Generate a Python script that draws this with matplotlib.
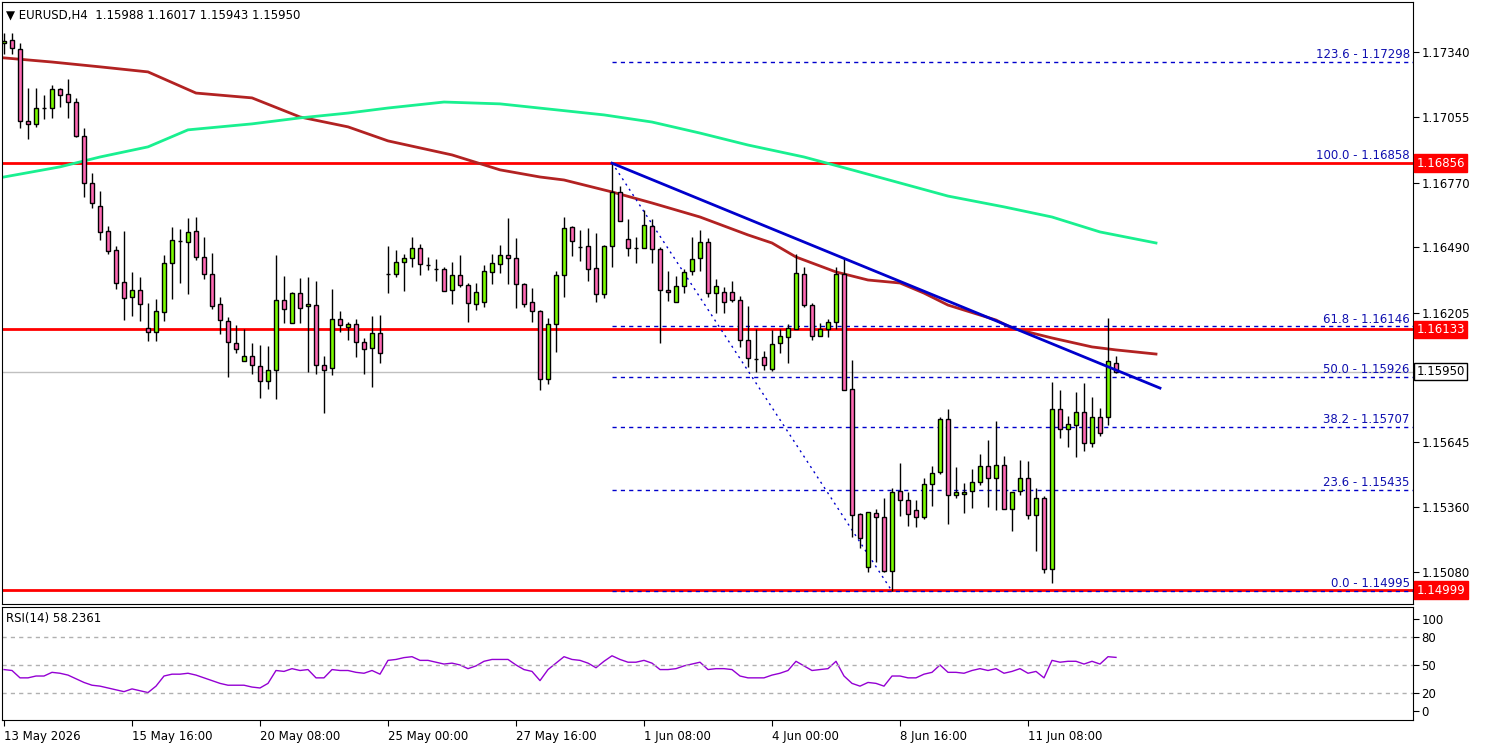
import numpy as np
import matplotlib
matplotlib.use('Agg')
import matplotlib.pyplot as plt
import matplotlib.transforms as mtransforms

# EURUSD H4 candles
opens = [1.17379, 1.17392, 1.17353, 1.17040, 1.17027, 1.17096, 1.17096, 1.17179, 1.17157, 1.17122,
         1.16974, 1.16770, 1.16670, 1.16561, 1.16479, 1.16339, 1.16274, 1.16305, 1.16139, 1.16122,
         1.16209, 1.16422, 1.16518, 1.16513, 1.16561, 1.16448, 1.16374, 1.16244, 1.16170, 1.16074,
         1.15996, 1.16017, 1.15974, 1.15909, 1.15957, 1.16261, 1.16161, 1.16291, 1.16235, 1.16239,
         1.15978, 1.15965, 1.16178, 1.16144, 1.16157, 1.16078, 1.16052, 1.16117, 1.16374, 1.16374,
         1.16426, 1.16444, 1.16487, 1.16413, 1.16396, 1.16396, 1.16305, 1.16370, 1.16326, 1.16244,
         1.16252, 1.16383, 1.16418, 1.16457, 1.16444, 1.16331, 1.16252, 1.16213, 1.15917, 1.16157,
         1.16370, 1.16579, 1.16492, 1.16496, 1.16400, 1.16287, 1.16496, 1.16731, 1.16526, 1.16487,
         1.16487, 1.16583, 1.16483, 1.16305, 1.16252, 1.16322, 1.16387, 1.16444, 1.16513, 1.16291,
         1.16296, 1.16296, 1.16261, 1.16087, 1.16004, 1.16013, 1.15961, 1.16074, 1.16100, 1.16135,
         1.16374, 1.16239, 1.16104, 1.16135, 1.16165, 1.16374, 1.15874, 1.15330, 1.15100, 1.15335,
         1.15317, 1.15082, 1.15430, 1.15391, 1.15348, 1.15317, 1.15461, 1.15513, 1.15743, 1.15413,
         1.15417, 1.15430, 1.15469, 1.15539, 1.15487, 1.15543, 1.15352, 1.15430, 1.15487, 1.15326,
         1.15400, 1.15091, 1.15787, 1.15700, 1.15717, 1.15774, 1.15639, 1.15752, 1.15752, 1.15988]
highs = [1.17422, 1.17422, 1.17379, 1.17183, 1.17182, 1.17153, 1.17196, 1.17182, 1.17222, 1.17140,
         1.17009, 1.16813, 1.16735, 1.16583, 1.16496, 1.16561, 1.16383, 1.16361, 1.16248, 1.16265,
         1.16457, 1.16579, 1.16570, 1.16618, 1.16622, 1.16535, 1.16465, 1.16274, 1.16187, 1.16152,
         1.16135, 1.16074, 1.16065, 1.16061, 1.16457, 1.16365, 1.16296, 1.16357, 1.16361, 1.16344,
         1.16017, 1.16309, 1.16213, 1.16165, 1.16178, 1.16096, 1.16191, 1.16196, 1.16496, 1.16479,
         1.16461, 1.16535, 1.16505, 1.16448, 1.16439, 1.16405, 1.16426, 1.16457, 1.16335, 1.16335,
         1.16413, 1.16461, 1.16500, 1.16618, 1.16531, 1.16335, 1.16313, 1.16218, 1.16183, 1.16387,
         1.16622, 1.16583, 1.16566, 1.16574, 1.16552, 1.16500, 1.16861, 1.16757, 1.16613, 1.16535,
         1.16653, 1.16613, 1.16492, 1.16387, 1.16365, 1.16396, 1.16535, 1.16566, 1.16531, 1.16352,
         1.16318, 1.16344, 1.16278, 1.16235, 1.16135, 1.16039, 1.16131, 1.16135, 1.16157, 1.16461,
         1.16405, 1.16248, 1.16161, 1.16178, 1.16405, 1.16444, 1.16000, 1.15335, 1.15339, 1.15352,
         1.15400, 1.15443, 1.15552, 1.15426, 1.15391, 1.15487, 1.15539, 1.15752, 1.15787, 1.15535,
         1.15465, 1.15526, 1.15591, 1.15652, 1.15735, 1.15582, 1.15426, 1.15565, 1.15561, 1.15443,
         1.15408, 1.15904, 1.15870, 1.15756, 1.15861, 1.15900, 1.15839, 1.15791, 1.16183, 1.16017]
lows = [1.17331, 1.17331, 1.17009, 1.16961, 1.17014, 1.17048, 1.17053, 1.17101, 1.17053, 1.16970,
        1.16709, 1.16661, 1.16522, 1.16461, 1.16309, 1.16174, 1.16191, 1.16170, 1.16083, 1.16083,
        1.16170, 1.16265, 1.16335, 1.16287, 1.16435, 1.16352, 1.16222, 1.16113, 1.15926, 1.16030,
        1.15996, 1.15939, 1.15835, 1.15874, 1.15830, 1.16161, 1.16161, 1.16161, 1.15948, 1.15939,
        1.15769, 1.15935, 1.16122, 1.16087, 1.16013, 1.15939, 1.15883, 1.15987, 1.16291, 1.16361,
        1.16300, 1.16405, 1.16370, 1.16392, 1.16344, 1.16300, 1.16244, 1.16318, 1.16165, 1.16218,
        1.16231, 1.16331, 1.16378, 1.16331, 1.16226, 1.16231, 1.16165, 1.15870, 1.15896, 1.16035,
        1.16274, 1.16452, 1.16431, 1.16344, 1.16252, 1.16270, 1.16405, 1.16605, 1.16452, 1.16422,
        1.16487, 1.16422, 1.16074, 1.16257, 1.16252, 1.16291, 1.16370, 1.16387, 1.16274, 1.16204,
        1.16204, 1.16252, 1.16057, 1.15970, 1.15948, 1.15957, 1.15952, 1.16030, 1.15987, 1.16135,
        1.16231, 1.16087, 1.16104, 1.16100, 1.16135, 1.15870, 1.15230, 1.15182, 1.15078, 1.15121,
        1.15078, 1.14995, 1.15321, 1.15278, 1.15274, 1.15308, 1.15365, 1.15504, 1.15287, 1.15400,
        1.15335, 1.15356, 1.15456, 1.15361, 1.15348, 1.15352, 1.15256, 1.15413, 1.15308, 1.15169,
        1.15073, 1.15030, 1.15661, 1.15622, 1.15578, 1.15604, 1.15622, 1.15669, 1.15717, 1.15943]
closes = [1.17388, 1.17357, 1.17040, 1.17027, 1.17096, 1.17096, 1.17179, 1.17153, 1.17122, 1.16974,
          1.16770, 1.16683, 1.16557, 1.16474, 1.16335, 1.16270, 1.16305, 1.16244, 1.16122, 1.16213,
          1.16422, 1.16522, 1.16518, 1.16557, 1.16448, 1.16374, 1.16235, 1.16174, 1.16078, 1.16048,
          1.16017, 1.15978, 1.15909, 1.15957, 1.16261, 1.16222, 1.16291, 1.16226, 1.16244, 1.15978,
          1.15957, 1.16178, 1.16152, 1.16157, 1.16078, 1.16048, 1.16117, 1.16030, 1.16374, 1.16426,
          1.16444, 1.16487, 1.16418, 1.16413, 1.16396, 1.16300, 1.16370, 1.16326, 1.16248, 1.16296,
          1.16387, 1.16422, 1.16457, 1.16444, 1.16331, 1.16244, 1.16213, 1.15917, 1.16157, 1.16370,
          1.16574, 1.16518, 1.16492, 1.16396, 1.16287, 1.16496, 1.16731, 1.16605, 1.16487, 1.16487,
          1.16587, 1.16483, 1.16305, 1.16296, 1.16322, 1.16383, 1.16439, 1.16513, 1.16291, 1.16322,
          1.16252, 1.16261, 1.16087, 1.16009, 1.16004, 1.15978, 1.16070, 1.16104, 1.16139, 1.16378,
          1.16239, 1.16104, 1.16135, 1.16165, 1.16374, 1.15870, 1.15326, 1.15226, 1.15339, 1.15317,
          1.15082, 1.15426, 1.15391, 1.15330, 1.15317, 1.15461, 1.15508, 1.15743, 1.15413, 1.15426,
          1.15426, 1.15469, 1.15539, 1.15487, 1.15543, 1.15352, 1.15426, 1.15487, 1.15326, 1.15400,
          1.15091, 1.15787, 1.15700, 1.15722, 1.15774, 1.15639, 1.15752, 1.15682, 1.15996, 1.15950]

# moving averages, sampled at bar positions
ma_red_bar = [0, 6, 12, 18, 24, 31, 37, 43, 48, 56, 62, 67, 70, 76, 81, 87, 93, 96, 99, 104,
              108, 112, 115, 118, 124, 126, 131, 136, 139, 144]
ma_red_val = [1.17314, 1.17296, 1.17275, 1.17253, 1.17161, 1.17140, 1.17057, 1.17014, 1.16953, 1.16892,
              1.16827, 1.16796, 1.16783, 1.16731, 1.16683, 1.16622, 1.16544, 1.16509, 1.16448, 1.16383,
              1.16348, 1.16335, 1.16291, 1.16239, 1.16174, 1.16139, 1.16096, 1.16057, 1.16044, 1.16026]
ma_green_bar = [0, 7, 12, 18, 23, 31, 37, 43, 48, 55, 62, 75, 81, 87, 93, 100, 106, 112, 118, 125,
                131, 137, 144]
ma_green_val = [1.16796, 1.16840, 1.16883, 1.16927, 1.17001, 1.17027, 1.17053, 1.17074, 1.17096, 1.17122,
                1.17114, 1.17066, 1.17035, 1.16987, 1.16935, 1.16883, 1.16827, 1.16770, 1.16713, 1.16666,
                1.16622, 1.16557, 1.16509]

rsi = [45, 44, 36, 36, 38, 38, 42, 41, 39, 35, 31, 28, 27, 25, 23, 21, 24, 22, 20, 27,
       38, 40, 40, 41, 39, 36, 33, 30, 28, 28, 28, 26, 25, 30, 44, 43, 46, 44, 45, 36,
       36, 45, 44, 44, 42, 41, 44, 40, 55, 56, 58, 59, 55, 55, 53, 51, 52, 50, 46, 49,
       54, 56, 56, 56, 50, 45, 43, 33, 45, 52, 59, 56, 55, 52, 47, 54, 60, 56, 53, 53,
       55, 52, 45, 45, 46, 49, 51, 53, 45, 46, 46, 45, 38, 36, 36, 36, 39, 41, 44, 54,
       49, 44, 45, 46, 54, 38, 30, 27, 31, 30, 27, 38, 38, 36, 36, 40, 42, 50, 42, 42,
       41, 44, 46, 44, 46, 41, 43, 46, 41, 43, 36, 55, 53, 54, 54, 51, 54, 51, 59, 58.2361]

date_bars = [0, 16, 32, 48, 64, 80, 96, 112, 128]
date_labels = ['13 May 2026', '15 May 16:00', '20 May 08:00', '25 May 00:00', '27 May 16:00',
               '1 Jun 08:00', '4 Jun 00:00', '8 Jun 16:00', '11 Jun 08:00']

price_ticks = [1.17340, 1.17055, 1.16770, 1.16490, 1.16205, 1.15925, 1.15645, 1.15360, 1.15080]

# horizontal levels and fibonacci
res_levels = [1.16856, 1.16133, 1.14999]
last_price = 1.15950
fib_pct = [123.6, 100.0, 61.8, 50.0, 38.2, 23.6, 0.0]
fib_price = [1.17298, 1.16858, 1.16146, 1.15926, 1.15707, 1.15435, 1.14995]
fib_start_bar = 76
fib_low_bar = 111
trend_bars = [76, 144.5]
trend_vals = [1.16856, 1.15878]

W, H = 1485, 747
fig = plt.figure(figsize=(W / 100, H / 100), dpi=100)
plt.rcParams['font.family'] = ['DejaVu Sans']
fs = 8.5

ax = fig.add_axes([2 / W, 1 - 604 / H, 1411 / W, 602 / H])
ax2 = fig.add_axes([2 / W, 1 - 720 / H, 1411 / W, 113 / H])

xmax = (1413 - 4) / 8
for a in (ax, ax2):
    a.set_xlim(-0.25, xmax)
    for s in a.spines.values():
        s.set_color('black')
        s.set_linewidth(0.8)
ax.set_ylim(1.14939, 1.17557)
ax2.set_ylim(-9.8, 113)

idx = np.arange(len(closes))
o = np.array(opens)
c = np.array(closes)
bull = c >= o
ax.vlines(idx, lows, highs, color='black', lw=1, zorder=3)
body_lo = np.minimum(o, c)
body_h = np.maximum(np.abs(c - o), 0.000015)
ax.bar(idx, body_h, bottom=body_lo, width=0.62,
       color=np.where(bull, '#7CFC00', '#FF69B4'), edgecolor='black', lw=1, zorder=4)

ax.plot(ma_red_bar, ma_red_val, color='#B22222', lw=2, zorder=2)
ax.plot(ma_green_bar, ma_green_val, color='#19F090', lw=2, zorder=2)

for lv in res_levels:
    ax.axhline(lv, color='#FF0000', lw=2, zorder=1)
ax.axhline(last_price, color='#C0C0C0', lw=1, zorder=1)

for pct, pr in zip(fib_pct, fib_price):
    if pct != 100.0:
        ax.hlines(pr, fib_start_bar, xmax, color='#0000CC', lw=1, linestyles=(0, (3, 3)), zorder=1)
    ax.text(xmax - 0.4, pr + 0.00004, f'{pct:.1f} - {pr:.5f}', color='#1010B0', fontsize=fs,
            ha='right', va='bottom', zorder=5)
ax.plot([fib_start_bar, fib_low_bar], [fib_price[1], fib_price[-1]], color='#0000CC', lw=1,
        ls=(0, (1.5, 3)), zorder=2)
ax.plot(trend_bars, trend_vals, color='#0000CC', lw=2, zorder=5)

ax.set_xticks([])
ax.yaxis.tick_right()
ax.set_yticks(price_ticks)
# the 1.15925 label sits under the current-price box
ax.set_yticklabels(['' if abs(t - 1.15925) < 1e-6 else f'{t:.5f}' for t in price_ticks], fontsize=fs)
ax.tick_params(axis='y', length=4, pad=2)

trans = mtransforms.blended_transform_factory(ax.transAxes, ax.transData)
for lv in res_levels:
    ax.text(1.0025, lv, f'{lv:.5f}', transform=trans, fontsize=fs, color='white', va='center',
            ha='left', bbox=dict(boxstyle='square,pad=0.2', fc='#FF0000', ec='#FF0000'), zorder=6)
ax.text(1.0025, last_price, f'{last_price:.5f}', transform=trans, fontsize=fs, color='black',
        va='center', ha='left', bbox=dict(boxstyle='square,pad=0.2', fc='white', ec='black'), zorder=6)

ax.text(0.003, 0.99, '\u25bc EURUSD,H4  1.15988 1.16017 1.15943 1.15950', transform=ax.transAxes,
        fontsize=fs, va='top', ha='left')

# RSI panel
ax2.plot(idx, rsi, color='#9400D3', lw=1)
for lv in (80, 50, 20):
    ax2.axhline(lv, color='#B0B0B0', lw=1, ls=(0, (3, 3)))
ax2.yaxis.tick_right()
ax2.set_yticks([100, 80, 50, 20, 0])
ax2.set_yticklabels(['100', '80', '50', '20', '0'], fontsize=fs)
ax2.tick_params(axis='y', length=4, pad=2)
ax2.text(0.003, 0.96, 'RSI(14) 58.2361', transform=ax2.transAxes, fontsize=fs, va='top', ha='left')
ax2.set_xticks(date_bars)
ax2.set_xticklabels(date_labels, fontsize=fs, ha='left')
ax2.tick_params(axis='x', length=4, pad=3)

fig.savefig('out.png', dpi=100, facecolor='white')
